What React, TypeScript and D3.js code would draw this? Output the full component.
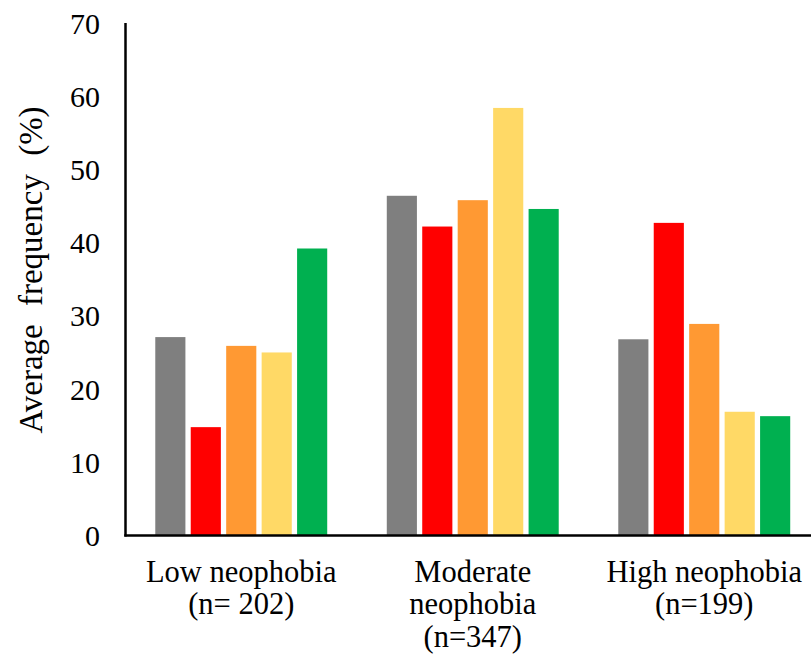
import React from "react";
import * as d3 from "d3";

// groups along the x axis, each label split into lines
const groups = ["low", "moderate", "high"];
const groupLabels = [
  ["Low neophobia", "(n= 202)"],
  ["Moderate", "neophobia", "(n=347)"],
  ["High neophobia", "(n=199)"],
];

// five series per group (no legend in the source, keyed by colour)
const seriesKeys = ["grey", "red", "orange", "yellow", "green"];
const seriesColors = ["#7f7f7f", "#ff0000", "#ff9933", "#ffd966", "#00b050"];

const greyValues = [27.1, 46.4, 26.8];
const redValues = [14.8, 42.2, 42.7];
const orangeValues = [25.9, 45.8, 28.9];
const yellowValues = [25.0, 58.4, 16.9];
const greenValues = [39.2, 44.6, 16.3];

const yTicks = [0, 10, 20, 30, 40, 50, 60, 70];

const W = 811;
const H = 657;
const txt = { fontFamily: "Liberation Serif, Times New Roman, Times, serif" };

export default function App() {
  const values = [greyValues, redValues, orangeValues, yellowValues, greenValues];

  // plot area; the x range runs past the right edge like the original crop
  const x0 = d3.scaleBand().domain(groups).range([125.5, 820]).padding(0);
  const x1 = d3
    .scaleBand()
    .domain(seriesKeys)
    .range([0, x0.bandwidth()])
    .paddingInner(0.15)
    .paddingOuter(0.84);
  const y = d3.scaleLinear().domain([0, 70]).range([535.5, 23]);

  const axisX = 125.5;

  return (
    <svg
      width={W}
      height={H}
      style={{ position: "absolute", left: 0, top: 0, background: "#fff" }}
    >
      <rect width={W} height={H} fill="#fff" />

      {/* bars */}
      {groups.map((g, gi) => (
        <g key={g} transform={`translate(${x0(g)},0)`}>
          {seriesKeys.map((s, si) => {
            var v = values[si][gi];
            return (
              <rect
                key={s}
                x={x1(s)}
                y={y(v)}
                width={x1.bandwidth()}
                height={y(0) - y(v)}
                fill={seriesColors[si]}
              />
            );
          })}
        </g>
      ))}

      {/* axes lines */}
      <line x1={axisX} x2={axisX} y1={y(70)} y2={y(0) + 1} stroke="#000" strokeWidth={2.5} />
      <line x1={axisX - 1.2} x2={W} y1={y(0)} y2={y(0)} stroke="#000" strokeWidth={2.5} />

      {/* y tick labels */}
      {yTicks.map((t) => (
        <text key={t} x={100} y={y(t)} dy="0.35em" textAnchor="end" fontSize={30} fill="#000" style={txt}>
          {t}
        </text>
      ))}

      {/* y axis title */}
      <text
        transform={`translate(42,270) rotate(-90)`}
        textAnchor="middle"
        fontSize={33}
        wordSpacing={10}
        fill="#000"
        style={txt}
      >
        Average frequency (%)
      </text>

      {/* category labels */}
      {groups.map((g, gi) => (
        <text
          key={g}
          x={(x0(g) as number) + x0.bandwidth() / 2}
          y={581.5}
          textAnchor="middle"
          fontSize={30.5}
          fill="#000"
          style={txt}
        >
          {groupLabels[gi].map((line, li) => (
            <tspan key={li} x={(x0(g) as number) + x0.bandwidth() / 2} dy={li === 0 ? 0 : 32.5}>
              {line}
            </tspan>
          ))}
        </text>
      ))}
    </svg>
  );
}
